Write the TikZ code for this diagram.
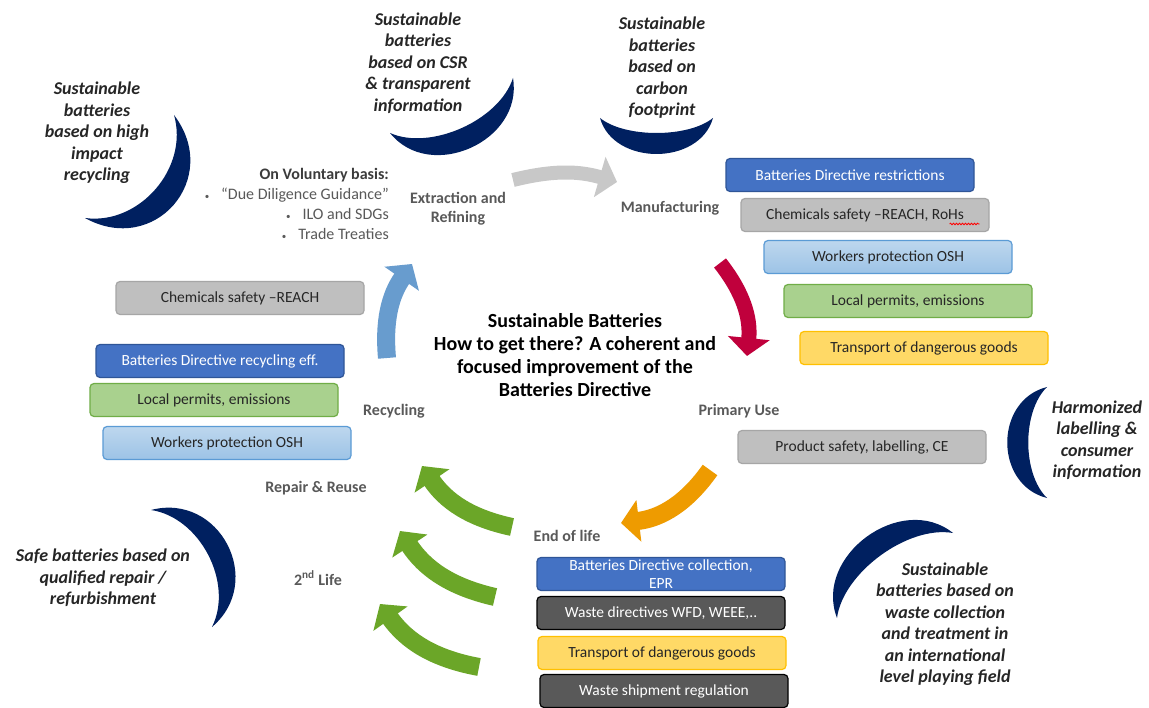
\documentclass[tikz,border=0pt]{standalone}
\usepackage{fontspec}
\setmainfont{Carlito}
\usetikzlibrary{arrows.meta,calc,positioning,decorations.pathmorphing}

\definecolor{moonblue}{RGB}{0,32,96}
\definecolor{bdblue}{RGB}{68,114,196}
\definecolor{bdedge}{RGB}{47,85,151}
\definecolor{chemgray}{RGB}{191,191,191}
\definecolor{chemedge}{RGB}{166,166,166}
\definecolor{oshtop}{RGB}{189,215,238}
\definecolor{oshbot}{RGB}{157,195,230}
\definecolor{oshedge}{RGB}{91,155,213}
\definecolor{permitgreen}{RGB}{169,209,142}
\definecolor{permitedge}{RGB}{112,173,71}
\definecolor{dgyellow}{RGB}{255,217,102}
\definecolor{dgedge}{RGB}{255,192,0}
\definecolor{wastegray}{RGB}{89,89,89}
\definecolor{labelgray}{RGB}{89,89,89}
\definecolor{textdark}{RGB}{38,38,38}
\definecolor{arrowgray}{RGB}{200,200,200}
\definecolor{arrowred}{RGB}{192,0,60}
\definecolor{arrowblue}{RGB}{104,156,206}
\definecolor{arroworange}{RGB}{238,155,0}
\definecolor{arrowgreen}{RGB}{107,166,40}

\tikzset{
  rule/.style={rounded corners=4pt, line width=1.2pt, minimum width=248pt, minimum height=33pt,
    inner sep=0pt, align=center, text=textdark, font=\fontsize{15.5}{19}\selectfont},
  bdrule/.style={rule, fill=bdblue, draw=bdedge, text=white},
  chemrule/.style={rule, fill=chemgray, draw=chemedge},
  oshrule/.style={rule, top color=oshtop, bottom color=oshbot, draw=oshedge},
  permitrule/.style={rule, fill=permitgreen, draw=permitedge},
  dgrule/.style={rule, fill=dgyellow, draw=dgedge},
  wasterule/.style={rule, fill=wastegray, draw=black, text=white},
  stage/.style={font=\fontsize{16}{19}\selectfont\bfseries, text=labelgray, align=center, inner sep=0pt},
  goal/.style={font=\fontsize{18}{21.5}\selectfont\bfseries\itshape, text=textdark, align=center, inner sep=0pt},
  flow/.style={line width=18pt, -{Triangle[length=18pt,width=41pt]}},
  moon/.style={fill=moonblue}
}

% crescent: tip, tip, outer and inner control offset (bulge on the right of tip->tip)
\newcommand{\crescent}[4]{%
  \fill[moon] (#1) .. controls ($(#1)!.12!(#2)!#3!-90:(#2)$) and ($(#2)!.12!(#1)!#3!90:(#1)$) .. (#2)
    .. controls ($(#2)!.22!(#1)!#4!90:(#1)$) and ($(#1)!.22!(#2)!#4!-90:(#2)$) .. (#1) -- cycle;}

\begin{document}
\begin{tikzpicture}[x=1pt,y=-1pt]
\fill[white] (0,0) rectangle (1149,708);
\useasboundingbox (0,0) rectangle (1149,708);

% crescents
\crescent{85,218}{174,115}{78pt}{46pt}
\crescent{390,133}{513,78}{62pt}{33pt}
\crescent{600,118}{713,118}{48pt}{20pt}
\crescent{1047,387}{1047,498}{53pt}{25pt}
\crescent{953,533}{837,618}{64pt}{33pt}
\crescent{212,627}{151,510}{69pt}{40pt}

% goals
\node[goal] (goalRecycle) at (97,133) {Sustainable\\batteries\\based on high\\impact\\recycling};
\node[goal] (goalCSR) at (418,63) {Sustainable\\batteries\\based on CSR\\\& transparent\\information};
\node[goal] (goalCarbon) at (662,68) {Sustainable\\batteries\\based on\\carbon\\footprint};
\node[goal] (goalLabel) at (1097,440) {Harmonized\\labelling \&\\consumer\\information};
\node[goal] (goalWaste) at (945,624) {Sustainable\\batteries based on\\waste collection\\and treatment in\\an international\\level playing field};
\node[goal] (goalRepair) at (103,578) {Safe batteries based on\\qualified repair /\\refurbishment};

% title
\node[font=\fontsize{20}{23}\selectfont\bfseries, align=center, inner sep=0pt] (title) at (575,355)
  {Sustainable Batteries\\How to get there? A coherent and\\focused improvement of the\\Batteries Directive};

% stages
\node[font=\fontsize{16}{20}\selectfont, text=labelgray, align=right, anchor=north east, inner sep=0pt] (voluntary) at (389,168)
  {{\bfseries\color{textdark!90}On Voluntary basis:}\\
   {\small\textbullet}\hspace{12pt}“Due Diligence Guidance”\\
   {\small\textbullet}\hspace{12pt}ILO and SDGs\\
   {\small\textbullet}\hspace{12pt}Trade Treaties};
\node[stage] (extract) at (458,209) {Extraction and\\Refining};
\node[stage] (manuf) at (670,208) {Manufacturing};
\node[stage] (recycling) at (394,411) {Recycling};
\node[stage] (primary) at (739,411) {Primary Use};
\node[stage] (repair) at (316,488) {Repair \& Reuse};
\node[stage] (second) at (318,578) {2\textsuperscript{nd} Life};
\node[stage] (eol) at (567,536) {End of life};

% manufacturing
\node[bdrule] (mfgBD) at (850,175) {Batteries Directive restrictions};
\node[chemrule] (mfgChem) at (865,215) {Chemicals safety –REACH, RoHs};
\node[oshrule] (mfgOSH) at (888,257) {Workers protection OSH};
\node[permitrule] (mfgPermit) at (908,301) {Local permits, emissions};
\node[dgrule] (mfgTDG) at (924,348) {Transport of dangerous goods};
\draw[red, line width=0.8pt, decorate, decoration={snake, amplitude=0.8pt, segment length=3pt}]
  ($(mfgChem.east)+(-40,9)$) -- ($(mfgChem.east)+(-10,9)$);

% recycling
\node[chemrule] (recChem) at (240,298) {Chemicals safety –REACH};
\node[bdrule] (recBD) at (220,361) {Batteries Directive recycling eff.};
\node[permitrule] (recPermit) at (214,400) {Local permits, emissions};
\node[oshrule] (recOSH) at (227,443) {Workers protection OSH};

% primary use
\node[chemrule] (useCE) at (862,447) {Product safety, labelling, CE};

% end of life
\node[bdrule, font=\fontsize{15.5}{18}\selectfont] (eolBD) at (661,574) {Batteries Directive collection,\\EPR};
\node[wasterule] (eolWaste) at (661,613) {Waste directives WFD, WEEE,..};
\node[dgrule] (eolTDG) at (662,653) {Transport of dangerous goods};
\node[wasterule] (eolShip) at (664,691) {Waste shipment regulation};

% cycle arrows
\coordinate (grayTail) at (513,180);
\coordinate (grayTip) at (617,182);
\coordinate (redTail) at (720,263);
\coordinate (redTip) at (747,356);
\coordinate (orangeTail) at (710,470);
\coordinate (orangeTip) at (621,523);
\coordinate (blueTail) at (387,358);
\coordinate (blueTip) at (412,264);
\coordinate (g1Tail) at (512,527);
\coordinate (g1Tip) at (422,466);
\coordinate (g2Tail) at (495,597);
\coordinate (g2Tip) at (400,531);
\coordinate (g3Tail) at (479,667);
\coordinate (g3Tip) at (380,604);

\draw[flow, arrowgray, line width=14pt] (grayTail) to[bend left=15] (grayTip);
\draw[flow, arrowred, line width=15pt] (redTail) to[bend left=22] (redTip);
\draw[flow, arroworange] (orangeTail) to[bend left=24] (orangeTip);
\draw[flow, arrowblue] (blueTail) to[bend left=20] (blueTip);
\foreach \g in {g1,g2,g3}
  \draw[flow, arrowgreen] (\g Tail) to[bend left=22] (\g Tip);
\end{tikzpicture}
\end{document}
